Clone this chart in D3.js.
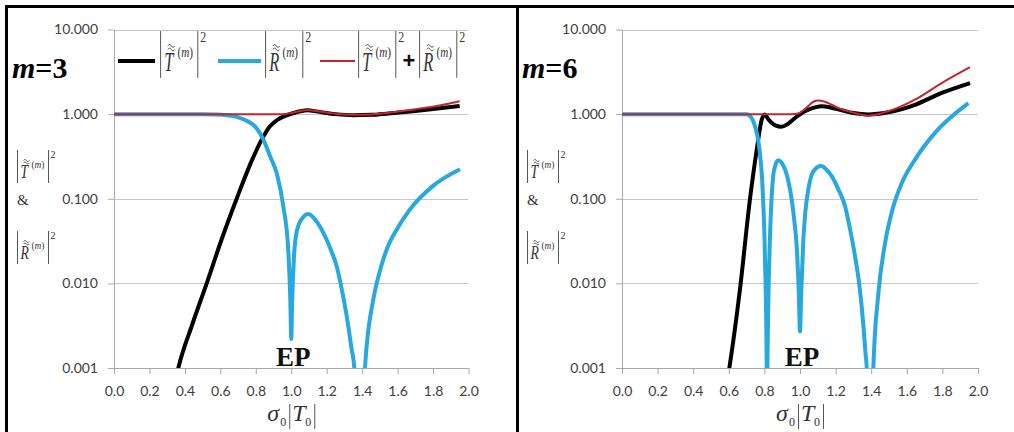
<!DOCTYPE html>
<html><head><meta charset="utf-8">
<script src="https://cdn.jsdelivr.net/npm/d3@7"></script>
<style>body{margin:0;background:#fff} svg{display:block}</style>
</head><body>
<svg id="c" width="1014" height="432"></svg>
<script>
// ---------------- data ----------------
const xTicks = [0,0.2,0.4,0.6,0.8,1.0,1.2,1.4,1.6,1.8,2.0];
const xTickLabels = ["0.0","0.2","0.4","0.6","0.8","1.0","1.2","1.4","1.6","1.8","2.0"];
const yTicks = [0.001,0.01,0.1,1,10];
const yTickLabels = ["0.001","0.010","0.100","1.000","10.000"];
const panelLabels = ["3","6"];
const epX = [1.0, 1.0];

// m = 3   [σ0|T0|, value]
const m3T = [[0.34,0.0006],[0.363,0.001],[0.44,0.0032],[0.523,0.01],[0.607,0.033],[0.692,0.1],[0.77,0.26],[0.833,0.5],[0.88,0.72],[0.927,0.87],[0.97,0.96],[1.0,1.01],[1.05,1.08],[1.09,1.11],[1.15,1.07],[1.25,1.0],[1.35,0.97],[1.45,0.98],[1.55,1.02],[1.7,1.09],[1.85,1.18],[1.95,1.25]];
const m3R = [[0,1],[0.3,1],[0.5,0.995],[0.636,0.97],[0.73,0.87],[0.8,0.7],[0.843,0.5],[0.88,0.32],[0.918,0.2],[0.955,0.082],[0.983,0.025],[0.995,0.006],[1.0,0.0022],[1.005,0.006],[1.015,0.02],[1.03,0.04],[1.06,0.058],[1.096,0.066],[1.14,0.055],[1.18,0.04],[1.22,0.026],[1.256,0.016],[1.29,0.0075],[1.313,0.0041],[1.34,0.0017],[1.356,0.001],[1.386,0.00002],[1.416,0.001],[1.463,0.0065],[1.5,0.014],[1.538,0.025],[1.6,0.045],[1.67,0.075],[1.8,0.142],[1.952,0.223]];
const m3Sum = [[0,1],[0.5,1],[0.9,1],[0.95,1.0],[1.0,1.03],[1.05,1.09],[1.09,1.12],[1.15,1.08],[1.25,1.01],[1.35,0.98],[1.45,0.99],[1.55,1.04],[1.7,1.14],[1.85,1.28],[1.95,1.42]];

// m = 6
const m6T = [[0.58,0.0005],[0.603,0.001],[0.663,0.0086],[0.719,0.099],[0.757,0.38],[0.785,0.86],[0.803,0.99],[0.82,0.88],[0.84,0.79],[0.865,0.73],[0.894,0.707],[0.93,0.76],[0.972,0.9],[1.01,1.03],[1.047,1.13],[1.085,1.2],[1.122,1.235],[1.17,1.2],[1.234,1.11],[1.3,1.03],[1.384,0.99],[1.496,1.05],[1.646,1.29],[1.796,1.78],[1.955,2.33]];
const m6R = [[0,1],[0.6,1],[0.7,0.995],[0.728,0.9],[0.747,0.72],[0.77,0.42],[0.79,0.13],[0.803,0.021],[0.813,0.001],[0.815,0.00003],[0.817,0.001],[0.831,0.0334],[0.84,0.1],[0.85,0.19],[0.862,0.25],[0.878,0.286],[0.895,0.27],[0.916,0.222],[0.935,0.16],[0.953,0.099],[0.968,0.055],[0.981,0.028],[0.993,0.008],[1.0,0.0027],[1.007,0.008],[1.019,0.033],[1.03,0.07],[1.047,0.13],[1.065,0.19],[1.084,0.222],[1.1,0.238],[1.118,0.243],[1.145,0.225],[1.178,0.185],[1.215,0.13],[1.253,0.082],[1.28,0.045],[1.309,0.021],[1.335,0.009],[1.356,0.0032],[1.368,0.0015],[1.375,0.001],[1.393,0.00002],[1.412,0.001],[1.44,0.0075],[1.478,0.03],[1.52,0.075],[1.57,0.15],[1.646,0.29],[1.758,0.6],[1.946,1.35]];
const m6Sum = [[0,1],[0.95,1.0],[0.99,1.02],[1.047,1.25],[1.075,1.4],[1.103,1.45],[1.14,1.4],[1.178,1.29],[1.22,1.17],[1.271,1.08],[1.33,1.0],[1.384,0.96],[1.496,1.08],[1.646,1.48],[1.796,2.33],[1.955,3.59]];

const seriesByPanel = [[m3T,m3R,m3Sum],[m6T,m6R,m6Sum]];

// ---------------- layout / style ----------------
const colT = "#000000", colR = "#27a8de", colS = "#c3262c";
const panelLeft = [114, 622], panelRight = [468.5, 978];
const yTop = 29.5, yBot = 368;
const svg = d3.select("#c");
const serif = "'Liberation Serif','DejaVu Serif',serif";
const sans = "Lato,'Open Sans',sans-serif";

// frame
svg.append("rect").attr("x",5).attr("y",5).attr("width",3).attr("height",427).attr("fill","#000");
svg.append("rect").attr("x",5).attr("y",5).attr("width",1009).attr("height",3).attr("fill","#000");
svg.append("rect").attr("x",516).attr("y",5).attr("width",3).attr("height",427).attr("fill","#000");

function tilde(g, x, y) {
  g.append("path").attr("d",`M${x},${y} c0.9,-1.3 2,-1.3 2.9,0 s2,1.3 2.9,0`)
    .attr("fill","none").attr("stroke","#333").attr("stroke-width",0.8)
    .attr("vector-effect","non-scaling-stroke");
}
function absLabel(parent, tx, ty, sx, sy, letter) {
  const g = parent.append("g").attr("transform",`translate(${tx},${ty}) scale(${sx},${sy})`);
  const bar = (x)=>g.append("line").attr("x1",x).attr("x2",x).attr("y1",0).attr("y2",33)
      .attr("stroke","#555").attr("stroke-width",1).attr("vector-effect","non-scaling-stroke");
  bar(0.5);
  g.append("text").attr("transform","translate(3.5,28) scale(0.72,1)")
    .attr("font-family",serif).attr("font-style","italic").attr("font-size",19).attr("fill","#333").text(letter);
  tilde(g, 6.5, 10.5);
  tilde(g, 6.5, 13);
  const t = g.append("text").attr("transform","translate(14.5,18) scale(0.85,1)")
    .attr("font-family",serif).attr("font-size",11).attr("fill","#333");
  t.append("tspan").text("(");
  t.append("tspan").attr("font-style","italic").text("m");
  t.append("tspan").text(")");
  bar(31.5);
  g.append("text").attr("x",33.5).attr("y",8).attr("font-family",serif).attr("font-size",10).attr("fill","#333").text("2");
}

panelLabels.forEach((lab, pi) => {
  const x = d3.scaleLinear().domain([0,2]).range([panelLeft[pi], panelRight[pi]]);
  const y = d3.scaleLog().domain([0.001,10]).range([yBot, yTop]);
  const g = svg.append("g");
  const off = pi === 0 ? 0 : 510;

  // gridlines
  g.selectAll(".grid").data(yTicks.slice(1)).join("line")
    .attr("x1",x(0)).attr("x2",x(2))
    .attr("y1",d=>Math.round(y(d))+0.5).attr("y2",d=>Math.round(y(d))+0.5)
    .attr("stroke","#c8c8c8").attr("stroke-width",1);

  // y axis
  const ya = g.append("g").attr("transform",`translate(${Math.round(x(0))},0)`)
    .call(d3.axisLeft(y).tickValues(yTicks).tickFormat((d,i)=>yTickLabels[i]).tickSize(6).tickSizeOuter(0).tickPadding(10));
  // x axis
  const xa = g.append("g").attr("transform",`translate(0,${Math.round(yBot)})`)
    .call(d3.axisBottom(x).tickValues(xTicks).tickFormat((d,i)=>xTickLabels[i]).tickSize(6).tickSizeOuter(0).tickPadding(12));
  [ya,xa].forEach(a=>{
    a.select(".domain").attr("stroke","#a8a8a8");
    a.selectAll(".tick line").attr("stroke","#a8a8a8");
    a.selectAll("text").attr("font-family",sans).attr("font-size",14).attr("fill","#404040");
  });

  // clip
  const cid = "clip"+pi;
  svg.append("clipPath").attr("id",cid).append("rect")
    .attr("x",x(0)-5).attr("y",yTop-20).attr("width",x(2)-x(0)+15).attr("height",yBot-yTop+20);
  const line = d3.line().x(d=>x(d[0])).y(d=>y(d[1])).curve(d3.curveMonotoneX);
  const [T,R,S] = seriesByPanel[pi];
  const lg = g.append("g").attr("clip-path",`url(#${cid})`);
  lg.append("path").datum(T).attr("d",line).attr("fill","none").attr("stroke",colT).attr("stroke-width",4).attr("stroke-linejoin","round");
  lg.append("path").datum(R).attr("d",line).attr("fill","none").attr("stroke",colR).attr("stroke-width",4).attr("stroke-linejoin","round");
  lg.append("path").datum(S).attr("d",line).attr("fill","none").attr("stroke",colS).attr("stroke-width",2).attr("stroke-linejoin","round");

  // m = n label
  const mt = g.append("text").attr("x",12+off).attr("y",78).attr("font-family",serif).attr("font-weight","bold").attr("font-size",30).attr("fill","#000");
  mt.append("tspan").attr("font-style","italic").text("m");
  mt.append("tspan").text("="+lab);

  // EP label
  g.append("text").attr("x",x(epX[pi])+2).attr("y",366).attr("text-anchor","middle")
    .attr("font-family",serif).attr("font-weight","bold").attr("font-size",27).attr("fill","#111").text("EP");

  // y-axis title
  absLabel(g, 17+off, 150, 1, 1, "T");
  g.append("text").attr("x",17+off).attr("y",205).attr("font-family",serif).attr("font-size",15).attr("fill","#333").text("&");
  absLabel(g, 17+off, 231, 1, 1, "R");

  // x-axis title  σ0|T0|
  const cx = x(1.0) - 24;
  const xt = g.append("g").attr("transform",`translate(${cx},0)`);
  xt.append("text").attr("x",0).attr("y",421).attr("font-family",serif).attr("font-style","italic").attr("font-size",24).attr("fill","#333").text("σ");
  xt.append("text").attr("x",13).attr("y",426).attr("font-family",serif).attr("font-size",12).attr("fill","#333").text("0");
  xt.append("line").attr("x1",22.5).attr("x2",22.5).attr("y1",404).attr("y2",429).attr("stroke","#555").attr("stroke-width",1);
  xt.append("text").attr("x",25).attr("y",421).attr("font-family",serif).attr("font-style","italic").attr("font-size",24).attr("fill","#333").text("T");
  xt.append("text").attr("x",38).attr("y",426).attr("font-family",serif).attr("font-size",12).attr("fill","#333").text("0");
  xt.append("line").attr("x1",47.5).attr("x2",47.5).attr("y1",404).attr("y2",429).attr("stroke","#555").attr("stroke-width",1);
});

// legend (left panel only)
const leg = svg.append("g");
const legY = 61;
const legItems = [
  {x1:118, x2:155, col:colT, w:4},
  {x1:218, x2:261, col:colR, w:4},
  {x1:320, x2:355, col:colS, w:2}
];
leg.selectAll("line.sw").data(legItems).join("line")
  .attr("x1",d=>d.x1).attr("x2",d=>d.x2).attr("y1",legY).attr("y2",legY)
  .attr("stroke",d=>d.col).attr("stroke-width",d=>d.w);
absLabel(leg, 160, 31, 1.2, 1.42, "T");
absLabel(leg, 265, 31, 1.2, 1.42, "R");
absLabel(leg, 358, 31, 1.2, 1.42, "T");
leg.append("text").attr("x",409).attr("y",68).attr("text-anchor","middle").attr("font-family","'Liberation Sans',Arial,sans-serif")
  .attr("font-weight","bold").attr("font-size",22).attr("fill","#111").text("+");
absLabel(leg, 419, 31, 1.2, 1.42, "R");
</script>
</body></html>
